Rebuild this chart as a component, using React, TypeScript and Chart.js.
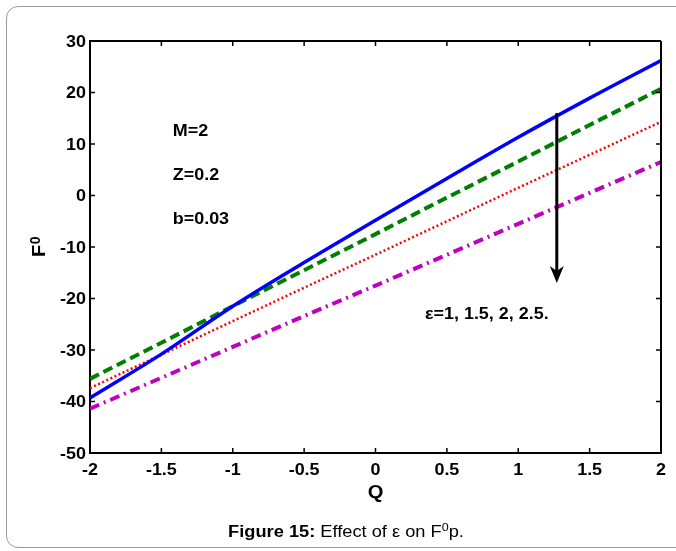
import React, { useEffect, useRef } from "react";
import { Chart, registerables } from "chart.js";

Chart.register(...registerables);

const qValues = [-2, -1.5, -1, -0.5, 0, 0.5, 1, 1.5, 2];
const eps1 = [-39.3, -30.8, -21.5, -13.0, -4.8, 3.3, 11.3, 18.9, 26.2];
const eps15 = [-35.6, -28.6, -21.5, -14.5, -7.5, -0.4, 6.6, 13.7, 20.7];
const eps2 = [-37.4, -30.9, -24.4, -17.9, -11.5, -5.0, 1.5, 7.9, 14.3];
const eps25 = [-41.4, -35.4, -29.4, -23.4, -17.5, -11.5, -5.5, 0.5, 6.5];

const paramLabels = ["M=2", "Z=0.2", "b=0.03"];
const paramY = [12.6, 4.2, -4.5];
const paramX = -1.42;
const epsLabel = "\u03b5=1, 1.5, 2, 2.5.";
const epsLabelPos = [0.347, -22.8];
const arrowX = 1.27;
const arrowTop = 16;
const arrowTip = -17;

const FONT = "'Liberation Sans', Arial, sans-serif";
const SX = 1.12;

function txt(ctx: any, s: string, x: number, y: number, font: string, align: string, sx: number) {
  ctx.save();
  ctx.font = font;
  const w = ctx.measureText(s).width * sx;
  const x0 = align === "center" ? x - w / 2 : align === "right" ? x - w : x;
  ctx.translate(x0, y);
  ctx.scale(sx, 1);
  ctx.textAlign = "left";
  ctx.textBaseline = "alphabetic";
  ctx.fillText(s, 0, 0);
  ctx.restore();
  return w;
}

const overlayPlugin = {
  id: "overlay",
  afterDraw(chart: any) {
    const ctx = chart.ctx;
    const { left, right, top, bottom } = chart.chartArea;
    const xs = chart.scales.x;
    const ys = chart.scales.y;
    ctx.save();
    ctx.strokeStyle = "#000";
    ctx.fillStyle = "#000";
    // top & right borders
    ctx.lineWidth = 2;
    ctx.beginPath();
    ctx.moveTo(left, top);
    ctx.lineTo(right, top);
    ctx.moveTo(right, top);
    ctx.lineTo(right, bottom);
    ctx.stroke();
    // inward ticks
    ctx.lineWidth = 1.5;
    const tl = 5;
    ctx.beginPath();
    xs.ticks.forEach((t: any) => {
      const px = xs.getPixelForValue(t.value);
      ctx.moveTo(px, bottom);
      ctx.lineTo(px, bottom - tl);
      ctx.moveTo(px, top);
      ctx.lineTo(px, top + tl);
    });
    ys.ticks.forEach((t: any) => {
      const py = ys.getPixelForValue(t.value);
      ctx.moveTo(left, py);
      ctx.lineTo(left + tl, py);
      ctx.moveTo(right, py);
      ctx.lineTo(right - tl, py);
    });
    ctx.stroke();

    // tick labels
    const tf = "bold 16px " + FONT;
    xs.ticks.forEach((t: any) => {
      txt(ctx, String(t.value), xs.getPixelForValue(t.value), 474.5, tf, "center", SX);
    });
    ys.ticks.forEach((t: any) => {
      txt(ctx, String(t.value), 86, ys.getPixelForValue(t.value) + 5.7, tf, "right", SX);
    });

    // arrow
    const ax = xs.getPixelForValue(arrowX);
    const ay1 = ys.getPixelForValue(arrowTop);
    const ay2 = ys.getPixelForValue(arrowTip);
    ctx.lineWidth = 3;
    ctx.beginPath();
    ctx.moveTo(ax, ay1);
    ctx.lineTo(ax, ay2 - 12);
    ctx.stroke();
    ctx.beginPath();
    ctx.moveTo(ax - 7, ay2 - 17);
    ctx.lineTo(ax, ay2 - 12);
    ctx.lineTo(ax + 7, ay2 - 17);
    ctx.lineTo(ax, ay2);
    ctx.closePath();
    ctx.fill();

    // annotations
    const af = "bold 16px " + FONT;
    paramLabels.forEach((s, i) => {
      txt(ctx, s, xs.getPixelForValue(paramX), ys.getPixelForValue(paramY[i]) + 5.7, af, "left", SX);
    });
    txt(ctx, epsLabel, xs.getPixelForValue(epsLabelPos[0]), ys.getPixelForValue(epsLabelPos[1]) + 5.7, af, "left", SX);

    // axis titles
    txt(ctx, "Q", (left + right) / 2, 498, "bold 18px " + FONT, "center", SX);
    ctx.save();
    ctx.translate(45, 257);
    ctx.rotate(-Math.PI / 2);
    const fw = txt(ctx, "F", 0, 0, "bold 18px " + FONT, "left", SX);
    txt(ctx, "0", fw + 0.5, -5, "bold 14px " + FONT, "left", 1);
    ctx.restore();

    // caption
    const parts: [string, string, number][] = [
      ["bold 16px " + FONT, "Figure 15:", 0],
      ["16px " + FONT, " Effect of \u03b5 on F", 0],
      ["11px " + FONT, "0", -6],
      ["16px " + FONT, "p.", 0],
    ];
    const CSX = 1.14;
    let total = 0;
    parts.forEach(([f, s]) => {
      ctx.font = f;
      total += ctx.measureText(s).width * CSX;
    });
    let cx = 346 - total / 2;
    parts.forEach(([f, s, dy]) => {
      cx += txt(ctx, s, cx, 537 + dy, f, "left", CSX);
    });
    ctx.restore();
  },
};

export default function App() {
  const ref = useRef<HTMLCanvasElement>(null);
  useEffect(() => {
    if (!ref.current) return;
    const mk = (vals: number[]) => qValues.map((q, i) => ({ x: q, y: vals[i] }));
    const chart = new Chart(ref.current, {
      type: "line",
      data: {
        datasets: [
          { data: mk(eps1), borderColor: "#0000ff", borderWidth: 3.5, pointRadius: 0, cubicInterpolationMode: "monotone" },
          { data: mk(eps15), borderColor: "#008000", borderWidth: 4, borderDash: [10, 5], pointRadius: 0 },
          { data: mk(eps2), borderColor: "#ff0000", borderWidth: 2.5, borderDash: [2, 2.5], pointRadius: 0 },
          { data: mk(eps25), borderColor: "#bf00bf", borderWidth: 4, borderDash: [10, 5, 2, 5], pointRadius: 0 },
        ],
      } as any,
      options: {
        animation: false,
        responsive: false,
        events: [],
        layout: { padding: { top: 41, right: 15, left: 0, bottom: 0 } },
        plugins: { legend: { display: false }, tooltip: { enabled: false } },
        scales: {
          x: {
            type: "linear",
            min: -2,
            max: 2,
            grid: { display: false },
            border: { display: true, color: "#000", width: 2 },
            ticks: { stepSize: 0.5, display: false },
            afterFit: (s: any) => {
              s.height = 98;
            },
          },
          y: {
            type: "linear",
            min: -50,
            max: 30,
            grid: { display: false },
            border: { display: true, color: "#000", width: 2 },
            ticks: { stepSize: 10, display: false },
            afterFit: (s: any) => {
              s.width = 90;
            },
          },
        },
      } as any,
      plugins: [overlayPlugin],
    });
    return () => chart.destroy();
  }, []);
  return (
    <div style={{ position: "fixed", left: 0, top: 0, width: 676, height: 551, overflow: "hidden", background: "#fff" }}>
      <div
        style={{
          position: "absolute",
          left: 6,
          top: 6,
          width: 720,
          height: 542,
          border: "1px solid #9a9a9a",
          borderRadius: 12,
          boxSizing: "border-box",
        }}
      />
      <canvas ref={ref} width={676} height={551} style={{ position: "absolute", left: 0, top: 0, width: 676, height: 551 }} />
    </div>
  );
}
